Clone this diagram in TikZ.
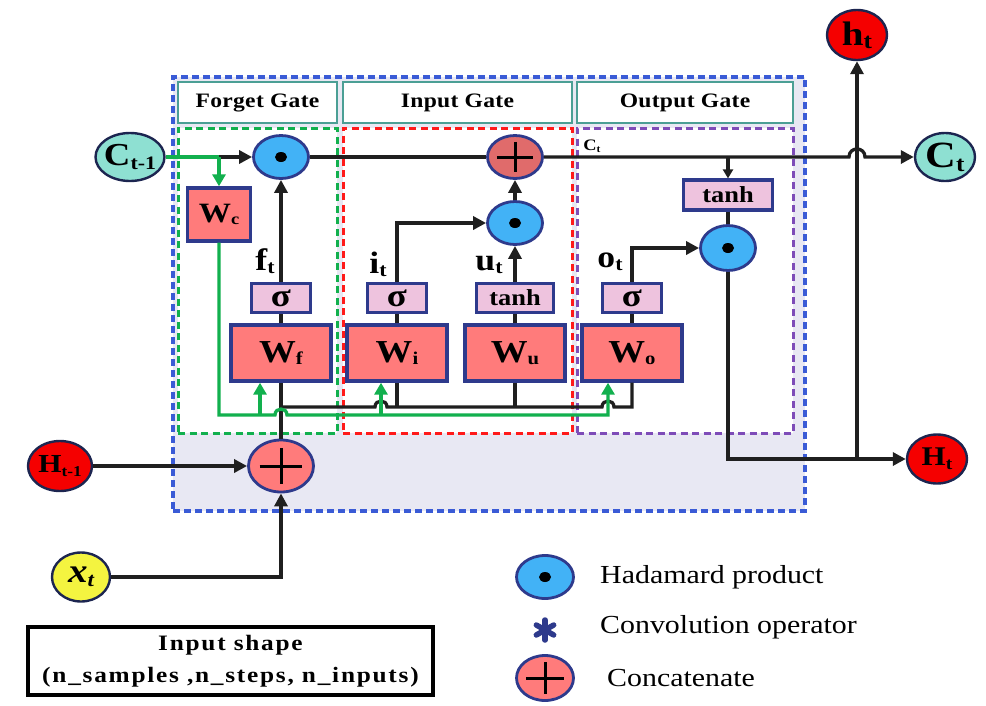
\documentclass[tikz,border=0pt]{standalone}
\usepackage{fontspec}
\setmainfont{Liberation Serif}[FakeStretch=1.15]
\newfontfamily\hdrfont{Liberation Serif}[FakeStretch=1.15,LetterSpace=1.5]
\newfontfamily\shpfont{Liberation Serif}[FakeStretch=1.15,LetterSpace=8]
\usetikzlibrary{arrows.meta,shapes.geometric,calc}
\definecolor{navy}{HTML}{2E3A8C}
\definecolor{wred}{HTML}{FF7B7B}
\definecolor{pinkbox}{HTML}{EEC3DE}
\definecolor{hadblue}{HTML}{42B2F6}
\definecolor{addred}{HTML}{E06B6B}
\definecolor{tealfill}{HTML}{8EE0D2}
\definecolor{hred}{HTML}{F50000}
\definecolor{xyellow}{HTML}{F4F440}
\definecolor{outerblue}{HTML}{3A5BD6}
\definecolor{lavender}{HTML}{E8E8F3}
\definecolor{hdrteal}{HTML}{4B9F95}
\definecolor{ggreen}{HTML}{12B04E}
\definecolor{gpurple}{HTML}{7E4CB8}
\definecolor{gred}{HTML}{FF1A1A}
\definecolor{termedge}{HTML}{1C2550}
\newcommand{\subl}[5]{{\fontsize{#1}{#1}\selectfont\bfseries #3\raisebox{-#5pt}{\fontsize{#2}{#2}\selectfont #4}}}
\begin{document}
\begin{tikzpicture}[x=1pt,y=-1pt,
  wbox/.style={draw=navy, line width=3.4pt, fill=wred, minimum width=100pt, minimum height=56pt, inner sep=0pt},
  actbox/.style={draw=navy, line width=3.2pt, fill=pinkbox, minimum width=59pt, minimum height=29pt, inner sep=0pt},
  had/.style={ellipse, draw=navy, line width=2.8pt, fill=hadblue, minimum width=55pt, minimum height=43pt, inner sep=0pt,
    path picture={\fill[black] (path picture bounding box.center) ellipse [x radius=6pt, y radius=5pt];}},
  addop/.style={ellipse, draw=navy, line width=2.8pt, fill=addred, minimum width=55pt, minimum height=43pt, inner sep=0pt,
    path picture={
      \draw[black, line width=3pt] ($(path picture bounding box.west)!0.17!(path picture bounding box.east)$) -- ($(path picture bounding box.east)!0.17!(path picture bounding box.west)$);
      \draw[black, line width=3pt] ($(path picture bounding box.north)!0.15!(path picture bounding box.south)$) -- ($(path picture bounding box.south)!0.15!(path picture bounding box.north)$);}},
  term/.style={ellipse, draw=termedge, line width=2.4pt, minimum width=60pt, minimum height=49pt, inner sep=0pt},
  gatebox/.style={fill=white, line width=3pt, dash pattern=on 7pt off 4.5pt, inner sep=0pt},
  hdr/.style={draw=hdrteal, line width=2.6pt, fill=white, inner sep=0pt, minimum height=41pt, font={\hdrfont\bfseries\fontsize{20.5}{22}\selectfont}},
  conn/.style={line width=3.3pt, draw=black!88},
  arr/.style={conn, -{Triangle[length=13pt,width=13pt]}},
  sarr/.style={conn, -{Triangle[length=9pt,width=10pt]}},
  gconn/.style={line width=3.3pt, draw=ggreen},
  garr/.style={gconn, -{Triangle[length=12pt,width=13pt]}},
  lab/.style={inner sep=0pt},
  legtext/.style={anchor=west, inner sep=0pt, font={\fontsize{26}{28}\selectfont}}
]
\useasboundingbox (0,0) rectangle (986,705);

% outer box
\node[draw=outerblue, line width=4pt, dash pattern=on 7pt off 4pt, fill=lavender, minimum width=632pt, minimum height=434pt, inner sep=0pt] (outer) at (489,294) {};
% gate boxes
\node[gatebox, draw=ggreen, minimum width=159pt, minimum height=305pt] (gfbox) at (257.5,280.5) {};
\node[gatebox, draw=gred, minimum width=229pt, minimum height=305pt] (gibox) at (457.5,280.5) {};
\node[gatebox, draw=gpurple, minimum width=216pt, minimum height=305pt] (gobox) at (685,280.5) {};
% headers
\node[hdr, minimum width=159pt] (hf) at (257.5,102.5) {Forget Gate};
\node[hdr, minimum width=229pt] (hi) at (457.5,102.5) {Input Gate};
\node[hdr, minimum width=216pt] (ho) at (685,102.5) {Output Gate};

% terminals
\node[term, fill=tealfill, minimum width=69pt, minimum height=48pt, label=center:{\subl{32}{19}{C}{t-1}{4}}] (Cprev) at (130,157) {};
\node[term, fill=tealfill, minimum width=60pt, minimum height=48pt, label=center:{\subl{37}{22}{C}{t}{4}}] (Ct) at (945,157) {};
\node[term, fill=hred, minimum width=60pt, minimum height=50pt, label=center:{\subl{34}{22}{h}{t}{3}}] (ht) at (857,35) {};
\node[term, fill=hred, minimum width=60pt, minimum height=49pt, label=center:{\subl{27}{17}{H}{t}{4}}] (Ht) at (937,459) {};
\node[term, fill=hred, minimum width=64pt, minimum height=50pt, label=center:{\subl{26}{15}{H}{t-1}{4}}] (Hprev) at (60,466) {};
\node[term, fill=xyellow, minimum width=58pt, minimum height=49pt, label=center:{{\itshape\subl{34}{20}{x}{t}{4}}}] (xt) at (81,577) {};

% operators
\node[had] (hadF) at (281,157) {};
\node[addop] (addC) at (515,157) {};
\node[had] (hadI) at (515,223) {};
\node[had, minimum height=45pt] (hadO) at (728,248) {};
\node[addop, fill=wred, minimum width=65pt, minimum height=52pt] (cat) at (281,466) {};

% boxes
\node[wbox, minimum width=63pt, minimum height=53pt] (Wc) at (219,214.5) {\subl{28}{16}{W}{c}{2}};
\node[wbox] (Wf) at (281,353) {\subl{32}{18}{W}{f}{2}};
\node[wbox] (Wi) at (397,353) {\subl{32}{18}{W}{i}{2}};
\node[wbox] (Wu) at (515,353) {\subl{32}{18}{W}{u}{2}};
\node[wbox] (Wo) at (632,353) {\subl{32}{18}{W}{o}{2}};
\node[actbox] (sigF) at (281,298) {\fontsize{32}{32}\selectfont\bfseries σ};
\node[actbox] (sigI) at (397,298) {\fontsize{32}{32}\selectfont\bfseries σ};
\node[actbox, minimum width=77pt] (tanhU) at (515,298) {\fontsize{23}{23}\selectfont\bfseries tanh};
\node[actbox] (sigO) at (632,298) {\fontsize{32}{32}\selectfont\bfseries σ};
\node[actbox, minimum width=89pt, minimum height=30pt] (tanhC) at (728,195) {\fontsize{23}{23}\selectfont\bfseries tanh};

% gate labels
\node[lab] (lf) at (265,261) {\subl{31}{19}{f}{t}{3}};
\node[lab] (li) at (378,264) {\subl{31}{19}{i}{t}{3}};
\node[lab] (lu) at (489,265) {\subl{31}{19}{u}{t}{3}};
\node[lab] (lo) at (610,262) {\subl{31}{19}{o}{t}{3}};
\node[lab] (lct) at (592,146) {\fontsize{16}{16}\selectfont\bfseries C\raisebox{-2pt}{\fontsize{10}{10}\selectfont t}};

% cell state line
\coordinate (cj) at (219,157);
\draw[gconn] (Cprev.east) -- (cj);
\draw[arr] (cj) -- (hadF.west);
\draw[garr] (cj) -- (Wc.north);
\draw[conn] (hadF.east) -- (addC.west);
\coordinate (tj) at (728,157);
\draw[arr] (addC.east) -- (849,157) .. controls (849,146.3) and (865,146.3) .. (865,157) -- (Ct.west);
\draw[sarr] (tj) -- (tanhC.north);
\draw[conn] (tanhC.south) -- (hadO.north);
\draw[arr] (sigO.north) |- (hadO.west);
\draw[arr] (hadO.south) |- (Ht.west);
\coordinate (hj) at (857,459);
\draw[arr] (hj) -- (ht.south);

% forget / input gate
\draw[arr] (sigF.north) -- (hadF.south);
\draw[arr] (sigI.north) |- (hadI.west);
\draw[arr] (tanhU.north) -- (hadI.south);
\draw[arr] (hadI.north) -- (addC.south);
\draw[conn] (Wf.north) -- (sigF.south);
\draw[conn] (Wi.north) -- (sigI.south);
\draw[conn] (Wu.north) -- (tanhU.south);
\draw[conn] (Wo.north) -- (sigO.south);

% inputs
\draw[arr] (Hprev.east) -- (cat.west);
\draw[arr] (xt.east) -| (cat.south);
\draw[conn] (cat.north) -- (Wf.south);

% black bus
\coordinate (cb) at (281,407);
\draw[conn] (cb) -- (375,407) .. controls (375,399) and (387,399) .. (387,407) -- (602,407) .. controls (602,399) and (614,399) .. (614,407) -| (Wo.south);
\draw[conn] (Wi.south) -- (Wi.south |- cb);
\draw[conn] (Wu.south) -- (Wu.south |- cb);

% green bus
\coordinate (go) at (608,415);
\draw[garr] (Wc.south) |- (275,415) .. controls (275,407) and (287,407) .. (287,415) -- (go) -- (go |- Wo.south);
\coordinate (g1) at (260,415);
\coordinate (g2) at (381,415);
\draw[garr] (g1) -- (g1 |- Wf.south);
\draw[garr] (g2) -- (g2 |- Wi.south);

% input shape box
\node[draw=black, line width=3.5pt, minimum width=405pt, minimum height=68pt, inner sep=0pt, align=center,
  font={\shpfont\bfseries\fontsize{22}{32}\selectfont}] (shape) at (230.5,661) {Input shape\\(n\_samples ,n\_steps, n\_inputs)};

% legend
\node[had, minimum width=57pt] (hadL) at (545,577) {};
\node[minimum width=28pt, minimum height=28pt, inner sep=0pt,
  path picture={
    \foreach \a in {90,30,-30}{
      \draw[navy, line width=5.5pt, line cap=round] ($(path picture bounding box.center)+(\a:10pt)$) -- ($(path picture bounding box.center)+(\a+180:10pt)$);}
  }] (starL) at (545,630) {};
\node[addop, fill=wred, minimum width=57pt, minimum height=45pt] (catL) at (545,678) {};
\node[legtext] (t1) at (600,577) {Hadamard product};
\node[legtext] (t2) at (600,627) {Convolution operator};
\node[legtext] (t3) at (607,678) {Concatenate};
\end{tikzpicture}
\end{document}
